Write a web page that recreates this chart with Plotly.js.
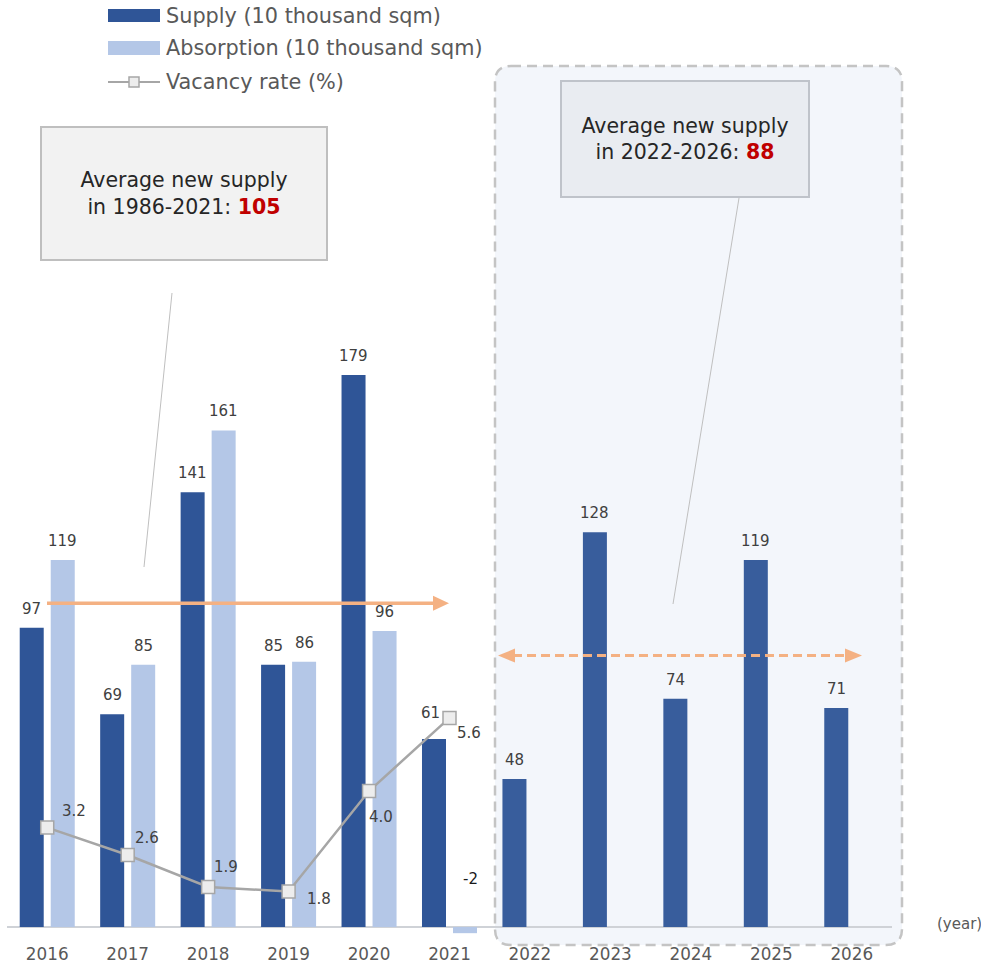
<!DOCTYPE html>
<html>
<head>
<meta charset="utf-8">
<script src="https://cdn.plot.ly/plotly-3.0.1.min.js"></script>
<style>
  html, body { margin: 0; padding: 0; background: #ffffff; }
  #chart { width: 981px; height: 968px; }
</style>
</head>
<body>
<div id="chart"></div>
<script>
// ---- data ----
const years = ['2016', '2017', '2018', '2019', '2020', '2021', '2022', '2023', '2024', '2025', '2026'];
const supply = [97, 69, 141, 85, 179, 61, 48, 128, 74, 119, 71];
const absorption = [119, 85, 161, 86, 96, -2, null, null, null, null, null];
const vacancyYears = ['2016', '2017', '2018', '2019', '2020', '2021'];
const vacancy = [3.2, 2.6, 1.9, 1.8, 4.0, 5.6];
const avgPast = 105;      // 1986-2021
const avgFuture = 88;     // 2022-2026
const firstForecastYear = '2022';

const seriesNames = ['Supply (10 thousand sqm)', 'Absorption (10 thousand sqm)', 'Vacancy rate (%)'];

// ---- layout geometry ----
const W = 981, H = 968;
const M = { l: 7, r: 89, t: 100, b: 26 };
const plotW = W - M.l - M.r;
const plotH = H - M.t - M.b;
const plotBottom = H - M.b;
const zeroPx = 927, pxPerUnit = 3.084;          // primary axis scale
const y2RefVal = 1.9, y2RefPx = 887, pxPerPct = 45.7; // vacancy axis scale

const yRange = [(zeroPx - plotBottom) / pxPerUnit, (zeroPx - M.t) / pxPerUnit];
const y2Range = [y2RefVal - (plotBottom - y2RefPx) / pxPerPct, y2RefVal + (y2RefPx - M.t) / pxPerPct];

const xp = px => (px - M.l) / plotW;
const yp = py => (plotBottom - py) / plotH;
const unitsOfPx = px => px / pxPerUnit;

// ---- colours ----
const C = {
  supply: '#2f5597',
  supplyForecast: '#385d9c',
  absorption: '#b4c7e7',
  vacancyLine: '#a6a6a6',
  vacancyMarker: '#ededed',
  orange: '#f4b183',
  label: '#404040',
  axisText: '#595959',
  leader: '#bfbfbf'
};
const FONT = 'DejaVu Sans, Verdana, sans-serif';

const forecastIdx = years.indexOf(firstForecastYear);
const supplyColors = years.map((y, i) => i >= forecastIdx ? C.supplyForecast : C.supply);

// ---- traces ----
const traces = [
  {
    type: 'bar', name: seriesNames[0], x: years, y: supply,
    marker: { color: supplyColors }, hoverinfo: 'x+y'
  },
  {
    type: 'bar', name: seriesNames[1], x: years, y: absorption,
    marker: { color: C.absorption }, hoverinfo: 'x+y'
  },
  {
    type: 'scatter', mode: 'lines+markers', name: seriesNames[2],
    x: vacancyYears, y: vacancy, yaxis: 'y2',
    line: { color: C.vacancyLine, width: 2.5 },
    marker: { symbol: 'square', size: 13, color: C.vacancyMarker, line: { color: C.vacancyLine, width: 1.5 } },
    cliponaxis: false
  }
];

// ---- value labels ----
const annotations = [];
const barShift = 15.5;
const labelLift = 19;
// label nudges (px) where a label would collide with other marks
const supplyLabelNudge = { '2021': { dx: -3.5, dy: 7 } };
const absorptionLabelNudge = { '2021': { dx: 5.5, dy: 35, color: '#1a1a1a' } };

supply.forEach((v, i) => {
  const n = supplyLabelNudge[years[i]] || { dx: 0, dy: 0 };
  annotations.push({
    x: i, y: v, xref: 'x', yref: 'y', text: String(v), showarrow: false,
    xshift: -barShift + n.dx, yshift: labelLift + n.dy, yanchor: 'middle',
    font: { family: FONT, size: 15, color: n.color || C.label }
  });
});
absorption.forEach((v, i) => {
  if (v === null) return;
  const n = absorptionLabelNudge[years[i]] || { dx: 0, dy: 0 };
  annotations.push({
    x: i, y: v, xref: 'x', yref: 'y', text: String(v), showarrow: false,
    xshift: barShift + n.dx, yshift: labelLift + n.dy, yanchor: 'middle',
    font: { family: FONT, size: 15, color: n.color || C.label }
  });
});

// vacancy labels sit beside each marker
const vacancyLabelOffset = [[27, 17], [19, 17], [18, 20], [30, -7], [12, -26], [19, -15]];
vacancy.forEach((v, i) => {
  annotations.push({
    x: years.indexOf(vacancyYears[i]), y: v, xref: 'x', yref: 'y2', text: v.toFixed(1), showarrow: false,
    xshift: vacancyLabelOffset[i][0], yshift: vacancyLabelOffset[i][1], yanchor: 'middle',
    font: { family: FONT, size: 15, color: C.label }
  });
});

// callout boxes
annotations.push({
  xref: 'paper', yref: 'paper', x: xp(184), y: yp(193.5), xanchor: 'center', yanchor: 'middle',
  text: 'Average new supply<br>in 1986-2021: <span style="color:#c00000"><b>' + avgPast + '</b></span>',
  showarrow: false, bgcolor: '#f2f2f2', bordercolor: '#bfbfbf', borderwidth: 2, borderpad: 0,
  width: 284, height: 131, font: { family: FONT, size: 20.5, color: '#262626' }
});
annotations.push({
  xref: 'paper', yref: 'paper', x: xp(685), y: yp(139), xanchor: 'center', yanchor: 'middle',
  text: 'Average new supply<br>in 2022-2026: <span style="color:#c00000"><b>' + avgFuture + '</b></span>',
  showarrow: false, bgcolor: '#e9ecf1', bordercolor: '#bfc3ca', borderwidth: 2, borderpad: 0,
  width: 246, height: 114, font: { family: FONT, size: 20.5, color: '#262626' }
});

// unit note
annotations.push({
  xref: 'paper', yref: 'paper', x: xp(935), y: yp(924), xanchor: 'left', yanchor: 'middle',
  text: '(year)', showarrow: false, font: { family: FONT, size: 15, color: C.axisText }
});

// legend text
const legendRowsPx = [16, 48, 82];
seriesNames.forEach((name, i) => {
  annotations.push({
    xref: 'paper', yref: 'paper', x: xp(164), y: yp(legendRowsPx[i]), xanchor: 'left', yanchor: 'middle',
    text: name, showarrow: false, font: { family: FONT, size: 20.8, color: C.axisText }
  });
});

// ---- shapes ----
function roundedRectPath(x0, y0, x1, y1, r) {
  const P = (x, y) => xp(x) + ',' + yp(y);
  return 'M' + P(x0 + r, y0) + ' L' + P(x1 - r, y0) + ' Q' + P(x1, y0) + ' ' + P(x1, y0 + r) +
    ' L' + P(x1, y1 - r) + ' Q' + P(x1, y1) + ' ' + P(x1 - r, y1) +
    ' L' + P(x0 + r, y1) + ' Q' + P(x0, y1) + ' ' + P(x0, y1 - r) +
    ' L' + P(x0, y0 + r) + ' Q' + P(x0, y0) + ' ' + P(x0 + r, y0) + ' Z';
}
function arrowHead(tipPx, basePx, yVal, halfPx) {
  const h = unitsOfPx(halfPx);
  return {
    type: 'path', xref: 'paper', yref: 'y', layer: 'above',
    path: 'M' + xp(basePx) + ',' + (yVal + h) + ' L' + xp(tipPx) + ',' + yVal + ' L' + xp(basePx) + ',' + (yVal - h) + ' Z',
    fillcolor: C.orange, line: { width: 0 }
  };
}

const shapes = [
  // forecast period panel
  {
    type: 'path', xref: 'paper', yref: 'paper', layer: 'below',
    path: roundedRectPath(495, 66, 902, 945, 16),
    fillcolor: '#f3f6fb', line: { color: '#c4c4c4', width: 2.5, dash: '10px,6px' }
  },
  // leader lines from the callouts
  { type: 'line', xref: 'paper', yref: 'paper', x0: xp(172), y0: yp(293), x1: xp(144), y1: yp(567), line: { color: C.leader, width: 1 }, layer: 'above' },
  { type: 'line', xref: 'paper', yref: 'paper', x0: xp(739), y0: yp(198), x1: xp(673), y1: yp(604), line: { color: C.leader, width: 1 }, layer: 'above' },
  // average supply 1986-2021
  { type: 'line', xref: 'paper', yref: 'y', x0: xp(47), x1: xp(434), y0: avgPast, y1: avgPast, line: { color: C.orange, width: 3.5 }, layer: 'above' },
  arrowHead(449, 433, avgPast, 7.5),
  // average supply 2022-2026
  { type: 'line', xref: 'paper', yref: 'y', x0: xp(513), x1: xp(847), y0: avgFuture, y1: avgFuture, line: { color: C.orange, width: 3, dash: '9px,5px' }, layer: 'above' },
  arrowHead(498, 515, avgFuture, 7),
  arrowHead(862, 845, avgFuture, 7),
  // legend symbols
  { type: 'rect', xref: 'paper', yref: 'paper', x0: xp(108), x1: xp(160), y0: yp(9), y1: yp(22), fillcolor: C.supply, line: { width: 0 } },
  { type: 'rect', xref: 'paper', yref: 'paper', x0: xp(108), x1: xp(160), y0: yp(41), y1: yp(55), fillcolor: C.absorption, line: { width: 0 } },
  { type: 'line', xref: 'paper', yref: 'paper', x0: xp(108), x1: xp(160), y0: yp(82), y1: yp(82), line: { color: C.vacancyLine, width: 2 } },
  { type: 'rect', xref: 'paper', yref: 'paper', x0: xp(129), x1: xp(139), y0: yp(77), y1: yp(87), fillcolor: C.vacancyMarker, line: { color: C.vacancyLine, width: 1.5 } }
];

const layout = {
  width: W, height: H,
  margin: M,
  paper_bgcolor: '#ffffff',
  plot_bgcolor: 'rgba(0,0,0,0)',
  font: { family: FONT, color: C.axisText },
  showlegend: false,
  barmode: 'group',
  bargap: 0.229,
  bargroupgap: 0.226,
  xaxis: {
    type: 'category', categoryorder: 'array', categoryarray: years,
    range: [-0.5, years.length - 0.5],
    showgrid: false, showline: false, ticks: '', zeroline: false,
    tickfont: { family: FONT, size: 16.8, color: C.axisText }
  },
  yaxis: {
    range: yRange, showgrid: false, showticklabels: false, ticks: '', showline: false,
    zeroline: true, zerolinecolor: '#cfd2d7', zerolinewidth: 1.8
  },
  yaxis2: {
    range: y2Range, overlaying: 'y', side: 'right', visible: false
  },
  annotations: annotations,
  shapes: shapes
};

Plotly.newPlot('chart', traces, layout, { displayModeBar: false, staticPlot: true });
</script>
</body>
</html>
